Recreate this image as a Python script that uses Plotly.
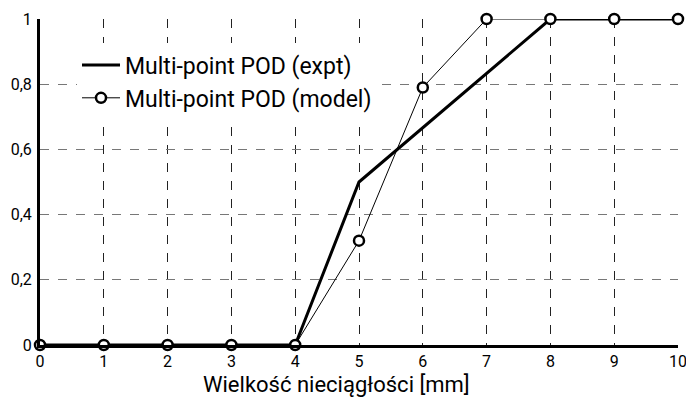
import plotly.graph_objects as go

# Probability of detection vs. flaw size
x_expt = [0, 4, 5, 8, 10]
pod_expt = [0, 0, 0.5, 1, 1]

x_model = [0, 1, 2, 3, 4, 5, 6, 7, 8, 9, 10]
pod_model = [0, 0, 0, 0, 0, 0.32, 0.79, 1, 1, 1, 1]

x_ticks = list(range(0, 11))
y_ticks = [0, 0.2, 0.4, 0.6, 0.8, 1]

x_title = "Wielkość nieciągłości [mm]"

FONT = "Roboto"

fig = go.Figure()
fig.add_trace(go.Scatter(
    x=x_expt, y=pod_expt, mode="lines", name="Multi-point POD (expt)",
    line=dict(color="black", width=3), cliponaxis=False,
))
fig.add_trace(go.Scatter(
    x=x_model, y=pod_model, mode="lines+markers", name="Multi-point POD (model)",
    line=dict(color="black", width=1),
    marker=dict(symbol="circle", size=10, color="white",
                line=dict(color="black", width=2.5)),
    cliponaxis=False,
))

# axis title sits slightly left of the plot-area centre
fig.add_annotation(
    text=x_title, xref="paper", yref="paper", x=0.4655, y=-0.122,
    xanchor="center", yanchor="middle", showarrow=False,
    font=dict(size=22, family=FONT, color="black"),
)

fig.update_layout(
    width=686, height=403,
    margin=dict(l=40, r=8, t=19, b=58, autoexpand=False),
    paper_bgcolor="white", plot_bgcolor="white",
    separators=", ",
    font=dict(family=FONT, color="black"),
    showlegend=True,
    legend=dict(x=0.058, y=0.925, xanchor="left", yanchor="top",
                bgcolor="white", borderwidth=0, itemwidth=38,
                font=dict(size=23, family=FONT), tracegroupgap=0),
    xaxis=dict(
        range=[0, 10], tickvals=x_ticks, ticks="", automargin=False,
        showline=True, linecolor="black", linewidth=3,
        showgrid=True, gridcolor="#222", griddash="dash", gridwidth=1,
        zeroline=False, tickfont=dict(size=16), ticklabeloverflow="allow",
    ),
    yaxis=dict(
        range=[0, 1], tickvals=y_ticks, ticks="", automargin=False,
        showline=True, linecolor="black", linewidth=3,
        showgrid=True, gridcolor="#777", griddash="dash", gridwidth=1,
        zeroline=False, tickfont=dict(size=16), ticklabelstandoff=2,
        ticklabeloverflow="allow",
    ),
)

fig.write_html("out.html")
